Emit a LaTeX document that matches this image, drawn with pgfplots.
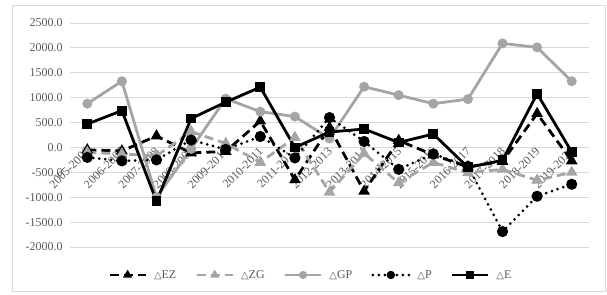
\documentclass[border=0pt]{standalone}
\usepackage{fontspec}
\setmainfont{Liberation Serif}
\newfontfamily\symfont{DejaVu Sans}
\usepackage{pgfplots}
\pgfplotsset{compat=1.18}
\definecolor{txt}{HTML}{595959}
\definecolor{gridc}{HTML}{D9D9D9}
\definecolor{lgray}{HTML}{A5A5A5}
\newcommand{\tri}{{\symfont\fontsize{10}{12}\selectfont △}}

\begin{document}
\begin{tikzpicture}[x=1bp,y=1bp]
\begin{axis}[
  at={(70bp,47bp)}, anchor=south west,
  scale only axis, width=519bp, height=224bp,
  xmin=-0.5, xmax=14.5, ymin=-2000, ymax=2500,
  axis x line=middle, axis y line=left,
  axis line style={draw=none},
  major tick length=0pt,
  ytick={-2000,-1500,...,2500},
  ymajorgrids, grid style={gridc, line width=0.9bp},
  xtick={0,...,14},
  xticklabels={2005-2006,2006-2007,2007-2008,2008-2009,2009-2010,2010-2011,2011-2012,2012-2013,2013-2014,2014-2015,2015-2016,2016-2017,2017-2018,2018-2019,2019-2020},
  tick label style={font=\fontsize{12}{14}\selectfont, text=txt},
  xticklabel style={rotate=45, anchor=east, inner sep=1bp, yshift=-2bp},
  yticklabel style={xshift=-4bp},
  y tick label style={/pgf/number format/fixed, /pgf/number format/fixed zerofill, /pgf/number format/precision=1, /pgf/number format/1000 sep={}, /pgf/number format/assume math mode=true},
  legend columns=5,
  legend style={at={(rel axis cs:0.464,-0.125)}, anchor=center, draw=none, fill=none, font=\fontsize{12}{14}\selectfont, text=txt, /tikz/every odd column/.append style={column sep=5bp}, /tikz/every even column/.append style={column sep=17bp}},
  legend image code/.code={\draw[mark repeat=2,mark phase=2,#1,mark size=2.6bp] plot coordinates {(0bp,0bp) (18bp,0bp) (36bp,0bp)};},
]
\addplot[black, line width=2.8bp, dash pattern=on 9bp off 5bp, mark=triangle*, mark size=4bp, mark options={solid}] coordinates {
(0,-50) (1,-70) (2,230) (3,-110) (4,-80) (5,530) (6,-650) (7,400) (8,-880) (9,140) (10,-150) (11,-390) (12,-280) (13,680) (14,-270)};
\addlegendentry{\tri EZ}
\addplot[lgray, line width=2.8bp, dash pattern=on 9bp off 5bp, mark=triangle*, mark size=4bp, mark options={solid, fill=lgray}] coordinates {
(0,-100) (1,-130) (2,-170) (3,320) (4,80) (5,-300) (6,200) (7,-900) (8,-120) (9,-710) (10,-300) (11,-510) (12,-440) (13,-660) (14,-500)};
\addlegendentry{\tri ZG}
\addplot[lgray, line width=2.8bp, mark=*, mark size=3.5bp, mark options={fill=lgray}] coordinates {
(0,880) (1,1330) (2,-1000) (3,-30) (4,980) (5,720) (6,620) (7,180) (8,1220) (9,1050) (10,880) (11,970) (12,2090) (13,2010) (14,1330)};
\addlegendentry{\tri GP}
\addplot[black, line width=3bp, line cap=round, dash pattern=on 0bp off 6bp, mark=*, mark size=4bp, mark options={solid}] coordinates {
(0,-200) (1,-270) (2,-250) (3,150) (4,-40) (5,220) (6,-210) (7,600) (8,120) (9,-440) (10,-130) (11,-380) (12,-1690) (13,-980) (14,-740)};
\addlegendentry{\tri P}
\addplot[black, line width=2.8bp, mark=square*, mark size=3.5bp] coordinates {
(0,470) (1,740) (2,-1080) (3,580) (4,910) (5,1210) (6,0) (7,310) (8,370) (9,100) (10,270) (11,-400) (12,-260) (13,1080) (14,-90)};
\addlegendentry{\tri E}
\end{axis}
\draw[gridc, line width=0.8bp] (12,3) rectangle (605,289);
\pgfresetboundingbox
\path[use as bounding box] (0,0) rectangle (607,294);
\end{tikzpicture}
\end{document}
